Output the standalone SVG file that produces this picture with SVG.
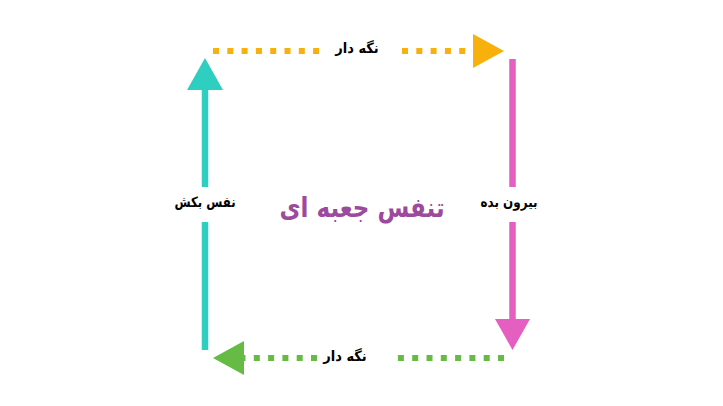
<svg xmlns="http://www.w3.org/2000/svg" width="723" height="406" viewBox="0 0 723 406">
<style>
.lbl{font-family:"DejaVu Sans","Noto Sans",sans-serif;font-weight:bold;font-size:13px;fill:#000;text-anchor:middle}
.title{font-family:"DejaVu Sans","Noto Sans",sans-serif;font-weight:bold;font-size:24px;fill:#9C4A9E;text-anchor:middle}
.dot{stroke-width:6;stroke-dasharray:6 8.3;fill:none}
.solid{stroke-width:6.5;fill:none}
</style>
<rect width="723" height="406" fill="#fff"/>
<g id="connectors">
<g id="top-hold">
<line class="dot" x1="213" y1="51" x2="320" y2="51" stroke="#F7B00C"/>
<line class="dot" x1="402" y1="51" x2="480" y2="51" stroke="#F7B00C"/>
<polygon points="473,34 504,51 473,68" fill="#F7B00C"/>
</g>
<g id="right-exhale">
<line class="solid" x1="512.5" y1="59" x2="512.5" y2="187" stroke="#E45FC0"/>
<line class="solid" x1="512.5" y1="222" x2="512.5" y2="322" stroke="#E45FC0"/>
<polygon points="495,319 530,319 512.5,350" fill="#E45FC0"/>
</g>
<g id="bottom-hold">
<line class="dot" x1="504" y1="358" x2="396" y2="358" stroke="#66BB44"/>
<line class="dot" x1="317" y1="358" x2="238" y2="358" stroke="#66BB44"/>
<polygon points="244,341 213,358 244,375" fill="#66BB44"/>
</g>
<g id="left-inhale">
<line class="solid" x1="205" y1="350" x2="205" y2="222" stroke="#2ECFC0"/>
<line class="solid" x1="205" y1="187" x2="205" y2="88" stroke="#2ECFC0"/>
<polygon points="187,90 223,90 205,58" fill="#2ECFC0"/>
</g>
</g>
<g id="label-top"><text class="lbl" transform="translate(357,53) scale(1,1.1)">نگه دار</text></g>
<g id="label-right"><text class="lbl" transform="translate(509,207) scale(0.92,1.1)">بیرون بده</text></g>
<g id="label-bottom"><text class="lbl" transform="translate(345,361) scale(1,1.1)">نگه دار</text></g>
<g id="label-left"><text class="lbl" transform="translate(205,207) scale(0.9,1.1)">نفس بکش</text></g>
<g id="title"><text class="title" transform="translate(362,217) scale(0.96,1.15)">تنفس جعبه ای</text></g>
</svg>
